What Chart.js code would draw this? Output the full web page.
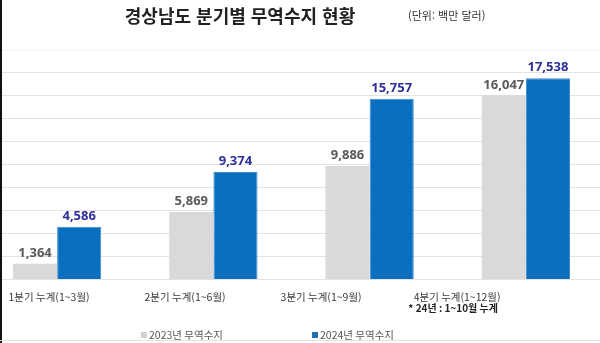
<!DOCTYPE html>
<html lang="ko">
<head>
<meta charset="utf-8">
<title>경상남도 분기별 무역수지 현황</title>
<script src="https://cdn.jsdelivr.net/npm/chart.js@4"></script>
<style>
  html, body { margin: 0; padding: 0; background: #fff; }
  body { width: 600px; height: 343px; position: relative; overflow: hidden; font-family: "Noto Sans CJK KR", "Noto Sans", sans-serif; }
  #frame { position: absolute; left: -21px; top: 0; width: 625px; height: 343px; }
  #edge { position: absolute; left: 0; top: 0; width: 2px; height: 343px; background: #111; }
  #bottomLine { position: absolute; left: 0; top: 340px; width: 600px; height: 1px; background: #e4e4e4; }
  #title { position: absolute; left: 0; top: 2px; width: 480px; text-align: center; font-size: 18px; font-weight: bold; color: #222; }
  #unit { position: absolute; left: 408px; top: 7px; font-size: 11px; color: #333; }
</style>
</head>
<body>
<div id="frame"><canvas id="tradeChart" width="625" height="343"></canvas></div>
<div id="edge"></div>
<div id="bottomLine"></div>
<div id="title">경상남도 분기별 무역수지 현황</div>
<div id="unit">(단위: 백만 달러)</div>
<script>
// 분기별 누계 무역수지 (백만 달러)
const quarterLabels = ["1분기 누계(1~3월)", "2분기 누계(1~6월)", "3분기 누계(1~9월)", "4분기 누계(1~12월)"];
const trade2023 = [1364, 5869, 9886, 16047];
const trade2024 = [4586, 9374, 15757, 17538];
const seriesNames = ["2023년 무역수지", "2024년 무역수지"];
const footNote = "* 24년 : 1~10월 누계";

const barColors = ["#d9d9d9", "#0b6fbf"];
const valueColors = ["#595959", "#2f2f9c"];
const legendColors = ["#d3d3d3", "#1f6fb3"];

// 막대 위에 값 표시
const valueLabels = {
  id: "valueLabels",
  afterDatasetsDraw(chart) {
    const ctx = chart.ctx;
    ctx.save();
    ctx.font = "bold 13px 'Noto Sans', sans-serif";
    ctx.textAlign = "center";
    ctx.textBaseline = "bottom";
    chart.data.datasets.forEach((ds, i) => {
      chart.getDatasetMeta(i).data.forEach((bar, j) => {
        ctx.fillStyle = valueColors[i];
        ctx.fillText(ds.data[j].toLocaleString("en-US"), bar.x, bar.y - 4);
      });
    });
    ctx.restore();
  },
};

// 4분기 아래 주석과 하단 범례
const bottomTexts = {
  id: "bottomTexts",
  afterDraw(chart) {
    const ctx = chart.ctx;
    const x2 = chart.scales.x2;
    ctx.save();
    ctx.font = "bold 10px 'Noto Sans CJK KR', sans-serif";
    ctx.fillStyle = "#222";
    ctx.textAlign = "center";
    ctx.textBaseline = "middle";
    ctx.fillText(footNote, x2.getPixelForValue(3) - 4, chart.chartArea.bottom + 29);

    const legendX = [162, 333];
    const legendY = 335;
    ctx.font = "10.5px 'Noto Sans CJK KR', sans-serif";
    ctx.textAlign = "left";
    seriesNames.forEach((name, i) => {
      ctx.fillStyle = legendColors[i];
      ctx.fillRect(legendX[i], legendY - 3, 6, 6);
      ctx.fillStyle = "#595959";
      ctx.fillText(name, legendX[i] + 8, legendY);
    });
    ctx.restore();
  },
};

const ctx = document.getElementById("tradeChart").getContext("2d");
new Chart(ctx, {
  type: "bar",
  data: {
    labels: quarterLabels,
    datasets: [
      {
        label: seriesNames[0],
        data: trade2023,
        backgroundColor: barColors[0],
        categoryPercentage: 0.565,
        barPercentage: 1.0,
      },
      {
        label: seriesNames[1],
        data: trade2024,
        backgroundColor: barColors[1],
        borderColor: "#3b8bd0",
        borderWidth: 1,
        categoryPercentage: 0.565,
        barPercentage: 1.0,
      },
    ],
  },
  options: {
    responsive: false,
    animation: false,
    layout: {
      padding: { top: 50, bottom: 29, left: 0, right: 0 },
    },
    plugins: {
      legend: { display: false },
      title: { display: false },
      tooltip: { enabled: false },
    },
    scales: {
      x: {
        display: false,
      },
      // 분기 이름 축 (막대 그룹과 간격이 조금 다름)
      x2: {
        type: "linear",
        position: "bottom",
        offset: false,
        bounds: "data",
        min: -0.515,
        max: 4.08,
        afterBuildTicks: (axis) => {
          axis.ticks = quarterLabels.map((_, i) => ({ value: i }));
        },
        grid: { display: false, drawTicks: false, offset: false },
        border: { display: false },
        ticks: {
          autoSkip: false,
          maxRotation: 0,
          padding: 11,
          color: "#3a3a3a",
          font: { size: 10.5, family: "'Noto Sans CJK KR', sans-serif" },
          callback: (value) => quarterLabels[value],
        },
      },
      y: {
        min: 0,
        max: 20000,
        ticks: { display: false, stepSize: 2000 },
        grid: {
          drawTicks: false,
          color: (c) => (c.tick && c.tick.value === 20000 ? "#f3f3f3" : "#e3e3e3"),
        },
        border: { display: false },
      },
    },
  },
  plugins: [valueLabels, bottomTexts],
});
</script>
</body>
</html>
